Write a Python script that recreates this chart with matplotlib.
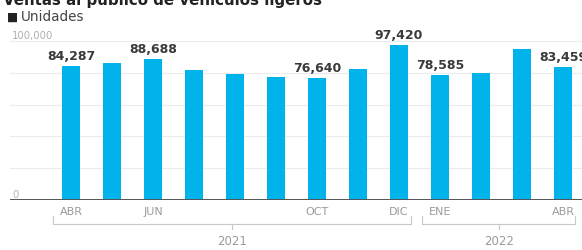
#!/usr/bin/env python3
import matplotlib
matplotlib.use('Agg')
import matplotlib.pyplot as plt
from matplotlib.transforms import blended_transform_factory

# ventas mensuales, abr 2021 - abr 2022
meses = ['ABR', 'MAY', 'JUN', 'JUL', 'AGO', 'SEP', 'OCT', 'NOV', 'DIC',
         'ENE', 'FEB', 'MAR', 'ABR']
unidades = [84287, 86000, 88688, 82000, 79000, 77500, 76640, 82500, 97420,
            78585, 80000, 95000, 83459]
etiquetas_x = {0: 'ABR', 2: 'JUN', 6: 'OCT', 8: 'DIC', 9: 'ENE', 12: 'ABR'}
con_valor = [0, 2, 6, 8, 9, 12]
anios = [('2021', 0, 8), ('2022', 9, 12)]

W, H = 582, 251
fig = plt.figure(figsize=(W / 100, H / 100), dpi=100)

# ejes en pixeles
left, right, bottom, top = 10, 582, 201, 30
ax = fig.add_axes([left / W, (H - bottom) / H, (right - left) / W, (bottom - top) / H])
ymax = (bottom - top) / 1.59 * 1000
ax.set_ylim(0, ymax)
ax.set_xlim((left - 71) / 41, (right - 71) / 41)

x = list(range(len(unidades)))
ax.bar(x, unidades, width=0.44, color='#00b3ea', zorder=2)

for v in range(20000, 100001, 20000):
    ax.axhline(v, color='#ececec', lw=0.8, zorder=0)
ax.axhline(0, color='#555555', lw=1.4, zorder=3)

for i in con_valor:
    ax.text(i, unidades[i] + 2500, f'{unidades[i]:,}', ha='center', va='bottom',
            fontsize=9, fontweight='bold', color='#3a3a3a', clip_on=False)

ytr = blended_transform_factory(ax.transAxes, ax.transData)
ax.text(0.004, 100000 + 800, '100,000', transform=ytr, fontsize=7.3, color='#b0b0b0', va='bottom')
ax.text(0.004, 800, '0', transform=ytr, fontsize=7.3, color='#b0b0b0', va='bottom')

ax.set_xticks(list(etiquetas_x.keys()))
ax.set_xticklabels(list(etiquetas_x.values()), fontsize=8, color='#9a9a9a')
ax.tick_params(axis='x', length=0, pad=4)
ax.set_yticks([])
for s in ax.spines.values():
    s.set_visible(False)

# corchetes de anio
tr = blended_transform_factory(ax.transData, ax.transAxes)
h = bottom - top
y_line = -24 / h
y_end = -16 / h
y_tick = -29 / h
y_year = -41 / h
for anio, a, b in anios:
    x0, x1 = a - 0.44, b + 0.3
    ax.plot([x0, x0, x1, x1], [y_end, y_line, y_line, y_end], color='#c8c8c8', lw=0.8,
            transform=tr, clip_on=False)
    xc = (x0 + x1) / 2
    ax.plot([xc, xc], [y_line, y_tick], color='#c8c8c8', lw=0.8, transform=tr, clip_on=False)
    ax.text(xc, y_year, anio, ha='center', va='center', fontsize=8.5, color='#9a9a9a',
            transform=tr)

fig.text(0.005, 1 - 5 / H, 'Ventas al público de vehículos ligeros', fontsize=10.8,
         fontweight='bold', color='#222222', va='baseline')
fig.text(7 / W, 1 - 17 / H, '■', fontsize=8.5, color='#222222', va='center')
fig.text(21 / W, 1 - 17 / H, 'Unidades', fontsize=9.8, color='#444444', va='center')

fig.savefig('out.png', dpi=100)
